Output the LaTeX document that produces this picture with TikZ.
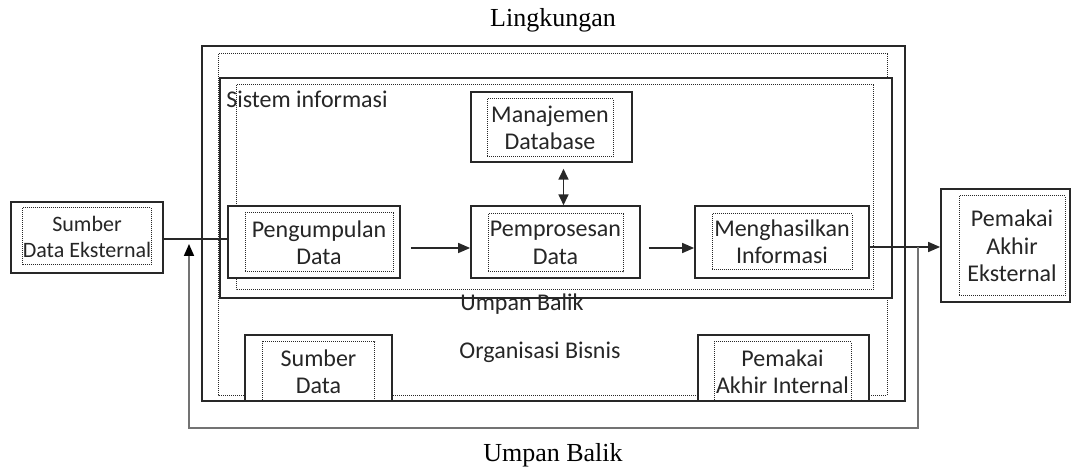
\documentclass[tikz,border=0pt]{standalone}
\usepackage{fontspec}
\setmainfont{Carlito}
\newfontfamily\judulfont{Liberation Serif}
\usetikzlibrary{arrows.meta,calc,positioning}
\definecolor{garis}{RGB}{40,40,40}
\definecolor{garisBalik}{RGB}{115,115,115}
\newcommand{\isifont}{\fontsize{18}{20.5}\selectfont}
\newcommand{\kecilfont}{\fontsize{16.5}{19.5}\selectfont}
\newcommand{\judulsize}{\fontsize{19.5}{22}\selectfont}
% kotak: [gaya], nama, pusat, lebar, tinggi, geser bingkai, lebar bingkai, tinggi bingkai, teks
\newcommand{\kotak}[9][]{%
  \node[kotakluar, minimum width={#4*0.75pt}, minimum height={#5*0.75pt}] (#2) at (#3) {};
  \node[bingkai, minimum width={#7*0.75pt}, minimum height={#8*0.75pt}, #1] (#2-isi) at ($(#2.center)+(#6)$) {#9};
}

\begin{document}
\begin{tikzpicture}[x=0.75pt,y=-0.75pt,
  kotakluar/.style={draw=garis, fill=white, line width=1.3pt, inner sep=0pt},
  bingkai/.style={draw=garis, line width=0.75pt, dash pattern=on 0.75pt off 0.75pt,
    inner sep=0pt, align=center, font=\isifont, text=black!85},
  panah/.style={-{Triangle[length=9pt,width=7.5pt]}, line width=1.1pt, draw=garis},
  dua arah/.style={{Triangle[length=8pt,width=7.5pt]}-{Triangle[length=8pt,width=7.5pt]}, line width=1.1pt, draw=garis},
  balik/.style={-{Triangle[length=9pt,width=7.5pt,color=black]}, line width=1.3pt, draw=garisBalik},
  label isi/.style={font=\isifont, text=black!85, inner sep=0pt},
  label judul/.style={font=\judulfont\judulsize, inner sep=0pt}]
  \useasboundingbox (0,0) rectangle (1075,470);

  % lingkungan dan organisasi
  \draw[garis, line width=1.3pt] (202,46) rectangle (905,401);
  \draw[garis, line width=0.75pt, dash pattern=on 0.75pt off 0.75pt] (218,54) rectangle (887,395);
  \node[label judul] (lingkungan) at (553,20) {Lingkungan};

  % sistem informasi
  \draw[garis, line width=1.3pt, fill=white] (220,78) rectangle (892,298);
  \draw[garis, line width=0.75pt, dash pattern=on 0.75pt off 0.75pt] (236,85) rectangle (873,290);
  \node[label isi, anchor=west] (si) at (226,99) {Sistem informasi};

  \kotak{db}{551.5,127}{161}{70}{-1.5,1}{126}{58}{Manajemen\\Database}
  \kotak{peng}{314,242}{172}{72}{5,0.5}{148}{59}{Pengumpulan\\Data}
  \kotak{proses}{555.5,242}{169}{72}{0,1}{135}{58}{Pemprosesan\\Data}
  \kotak{hasil}{782,242}{174}{72}{0,0}{140}{56}{Menghasilkan\\Informasi}

  \node[label isi] (umpanSI) at (522,304) {Umpan Balik};
  \node[label isi] (org) at (540,352) {Organisasi Bisnis};

  % di luar dan di dalam organisasi
  \kotak[font=\kecilfont]{sde}{87,237.5}{152}{71}{0,-1}{119}{57}{Sumber\\Data Eksternal}
  \kotak{pakaiExt}{1005.5,245.5}{129}{113}{6.5,0.5}{106}{100}{Pemakai\\Akhir\\Eksternal}
  \kotak{sumber}{318.5,368}{147}{66}{0,3.5}{112}{59}{Sumber\\Data}
  \kotak{pakaiInt}{783.5,368}{171}{66}{-1,3.5}{137}{59}{Pemakai\\Akhir Internal}

  % alur data
  \coordinate (masuk) at ($(sde.east)+(0,1.5)$);
  \draw[garis, line width=1.1pt] (masuk) -- (masuk -| peng.west);
  \draw[panah, shorten <=7.5pt] ($(peng.east)+(0,6)$) -- ($(proses.west)+(0,6)$);
  \draw[panah, shorten <=6pt] ($(proses.east)+(0,6)$) -- ($(hasil.west)+(0,6)$);
  \coordinate (dbBawah) at ($(db.south)+(12,0)$);
  \draw[dua arah, shorten <=4.5pt] (dbBawah) -- (dbBawah |- proses.north);
  \coordinate (keluar) at ($(hasil.east)+(0,5)$);
  \draw[panah] (keluar) -- (keluar -| pakaiExt.west);

  % umpan balik
  \coordinate (balikA) at (918,247);
  \coordinate (balikB) at (918,428);
  \coordinate (balikC) at (189,428);
  \coordinate (balikD) at (189,244);
  \draw[balik] (balikA) -- (balikB) -- (balikC) -- (balikD);
  \node[label judul] (umpan) at (553,455) {Umpan Balik};
\end{tikzpicture}
\end{document}
